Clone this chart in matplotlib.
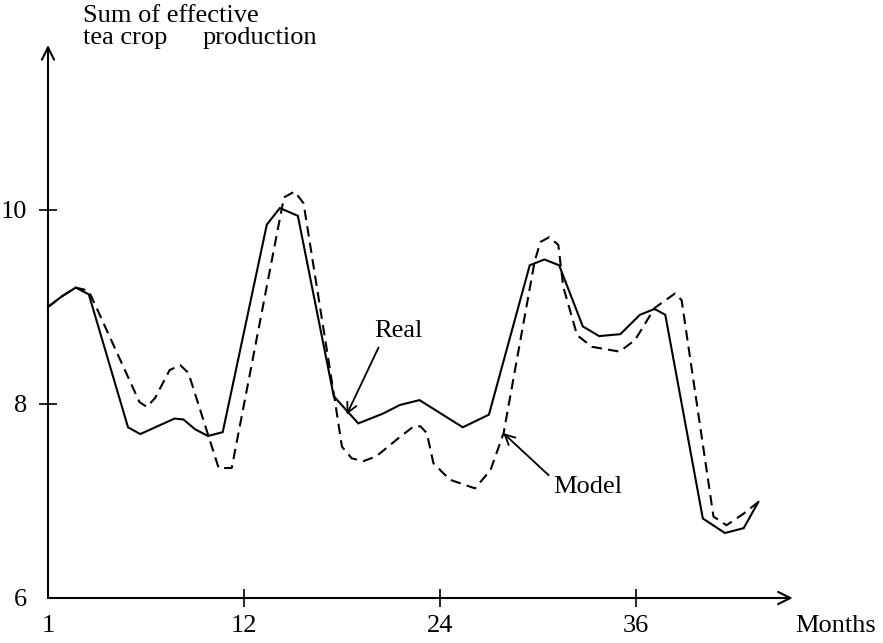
"""Real vs model effective tea crop production, monthly series."""

import matplotlib

matplotlib.use("Agg")
import matplotlib.pyplot as plt

plt.rcParams["font.family"] = ["Liberation Serif", "DejaVu Serif"]

# month offsets (origin = first month) and sums of effective production
REAL_MONTH = [0.0, 0.85, 1.7, 2.5, 4.9, 5.65, 7.75, 8.3, 9.0, 9.8, 10.7, 13.4, 14.2,
              15.3, 17.5, 19.0, 20.5, 21.55, 22.75, 25.4, 27.0, 29.5, 30.4, 31.3,
              32.75, 33.75, 35.05, 36.25, 37.15, 37.8, 40.1, 41.45, 42.6, 43.5]
REAL_VALUE = [9.00, 9.11, 9.20, 9.13, 7.76, 7.69, 7.85, 7.84, 7.74, 7.67, 7.71, 9.85, 10.02,
              9.94, 8.08, 7.80, 7.90, 7.99, 8.04, 7.76, 7.89, 9.43, 9.49, 9.43,
              8.80, 8.70, 8.72, 8.92, 8.98, 8.92, 6.82, 6.67, 6.72, 6.99]

MODEL_MONTH = [0.0, 0.85, 1.7, 2.45, 2.65, 5.6, 6.05, 6.55, 7.45, 8.1, 8.6, 10.45, 11.25,
               14.45, 15.1, 15.65, 17.6, 18.0, 18.6, 19.3, 20.1, 21.55, 22.4, 22.8, 23.2,
               23.6, 24.6, 26.15, 27.1, 27.9, 29.8, 30.15, 30.7, 31.25, 31.55, 32.4,
               33.3, 35.0, 35.95, 37.15, 38.4, 38.8, 40.75, 41.55, 42.6, 43.5]
MODEL_VALUE = [9.00, 9.11, 9.20, 9.17, 9.11, 8.02, 7.97, 8.06, 8.35, 8.40, 8.32, 7.34, 7.34,
               10.13, 10.19, 10.07, 8.00, 7.56, 7.44, 7.41, 7.46, 7.66, 7.77, 7.77, 7.70,
               7.39, 7.22, 7.13, 7.32, 7.70, 9.47, 9.67, 9.72, 9.64, 9.21, 8.71,
               8.59, 8.54, 8.66, 8.99, 9.14, 9.07, 6.84, 6.75, 6.87, 6.99]

X_TICKS = [0, 12, 24, 36]
X_TICK_LABELS = ["1", "12", "24", "36"]
Y_TICKS = [6, 8, 10]
Y_TICK_LABELS = ["6", "8", "10"]

W, H = 883, 643
FS = 19
fig = plt.figure(figsize=(W / 100, H / 100), dpi=100)
ax = fig.add_axes([0, 0, 1, 1])
# 16.33 px per month, 97 px per unit; origin at (48, 598) px from top-left
ax.set_xlim(-48 / 16.33, (W - 48) / 16.33)
ax.set_ylim(6 - (H - 598) / 97, 6 + 598 / 97)

ax.plot(REAL_MONTH, REAL_VALUE, color="black", lw=1.5, solid_joinstyle="miter")
ax.plot(MODEL_MONTH, MODEL_VALUE, color="black", lw=1.5, dashes=(5, 3))

# axes drawn as arrows from the origin
for spine in ax.spines.values():
    spine.set_visible(False)
ax.spines["left"].set_position(("data", 0))
ax.spines["bottom"].set_position(("data", 6))
arrow = dict(arrowstyle="->", lw=1.5, color="black", mutation_scale=22, shrinkA=0, shrinkB=0)
ax.annotate("", xy=(45.6, 6), xytext=(0, 6), arrowprops=arrow)
ax.annotate("", xy=(0, 11.7), xytext=(0, 6), arrowprops=arrow)

ax.set_xticks(X_TICKS, X_TICK_LABELS)
ax.set_yticks(Y_TICKS, Y_TICK_LABELS)
ax.tick_params(axis="both", direction="inout", length=13.5, width=1.2, labelsize=FS)
ax.tick_params(axis="x", pad=5.5)
ax.tick_params(axis="y", pad=8.5)
ax.xaxis.get_major_ticks()[0].tick1line.set_visible(False)
ax.yaxis.get_major_ticks()[0].tick1line.set_visible(False)

ax.annotate("Real", xy=(18.29, 7.89), xytext=(21.43, 8.75), ha="center", va="center",
            fontsize=FS,
            arrowprops=dict(arrowstyle="->", lw=1.3, color="black", mutation_scale=18,
                            shrinkA=2, shrinkB=0, relpos=(0.15, 0.0)))
ax.annotate("Model", xy=(27.88, 7.70), xytext=(33.07, 7.14), ha="center", va="center",
            fontsize=FS,
            arrowprops=dict(arrowstyle="->", lw=1.3, color="black", mutation_scale=18,
                            shrinkA=2, shrinkB=0, relpos=(0.0, 0.85)))

fig.text(795 / W, 1 - 626 / H, "Months", fontsize=FS, ha="left", va="center")
fig.text(83 / W, 1 - 16 / H, "Sum of effective", fontsize=FS, ha="left", va="center")
fig.text(83 / W, 1 - 38 / H, "tea crop", fontsize=FS, ha="left", va="center")
fig.text(203 / W, 1 - 38 / H, "production", fontsize=FS, ha="left", va="center")

fig.savefig("out.png", dpi=100)
